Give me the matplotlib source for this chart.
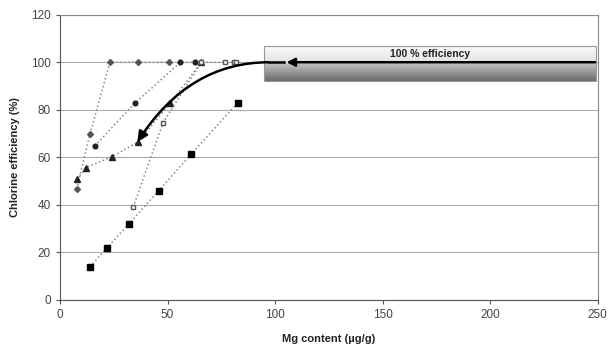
import numpy as np
import matplotlib.pyplot as plt
from matplotlib.path import Path
from matplotlib.patches import FancyArrowPatch, Rectangle

plt.rcParams['font.family'] = ['Liberation Sans', 'DejaVu Sans']

# series (Mg content ug/g, chlorine efficiency %)
diam_x = [7.7, 13.9, 23.2, 36.2, 50.7]
diam_y = [46.6, 69.7, 100, 100, 100]
circ_x = [16.2, 34.8, 56.0, 62.9]
circ_y = [64.8, 82.8, 100, 100]
tri_x = [8.0, 12.1, 24.3, 36.2, 51.3, 65.7]
tri_y = [50.9, 55.7, 60.3, 66.5, 82.8, 100]
osq_x = [34.0, 47.9, 65.7, 76.9, 80.7, 81.6]
osq_y = [39.0, 74.6, 100, 100, 100, 100]
fsq_x = [13.9, 21.9, 32.0, 45.9, 60.9, 82.7]
fsq_y = [14.0, 22.0, 32.0, 46.0, 61.3, 83.0]

x_ticks = [0, 50, 100, 150, 200, 250]
y_ticks = [0, 20, 40, 60, 80, 100, 120]

fig = plt.figure(figsize=(6.1, 3.46), dpi=100)
ax = fig.add_axes([0.0984, 0.133, 0.8816, 0.8245])

line_kw = dict(color='#888888', linestyle=':', linewidth=1.1)
ax.plot(diam_x, diam_y, marker='D', markersize=3.0, mfc='#555555', mec='#555555', **line_kw)
ax.plot(circ_x, circ_y, marker='o', markersize=3.4, mfc='#222222', mec='#222222', **line_kw)
ax.plot(tri_x, tri_y, marker='^', markersize=3.8, mfc='#222222', mec='#222222', **line_kw)
ax.plot(osq_x, osq_y, marker='s', markersize=3.4, mfc='white', mec='#555555', **line_kw)
ax.plot(fsq_x, fsq_y, marker='s', markersize=3.8, mfc='black', mec='black', **line_kw)

# grey "100 % efficiency" box with a vertical gradient
grad = np.concatenate([np.linspace(0.98, 0.88, 50), np.linspace(0.75, 0.42, 50)])
grad = np.tile(grad[:, None], (1, 2))
ax.imshow(grad, cmap='gray', vmin=0, vmax=1, aspect='auto',
          extent=[95, 249, 92.3, 107.0], origin='upper', zorder=2)
ax.add_patch(Rectangle((95, 92.3), 154, 14.7, fill=False, ec='#999999', lw=0.8, zorder=3))
ax.text(172, 103.5, '100 % efficiency', ha='center', va='center',
        fontsize=7.5, fontweight='bold', color='#222222', zorder=4)

# arrow: horizontal part then curve down to the left
ax.annotate('', xy=(104, 100), xytext=(250, 100),
            arrowprops=dict(arrowstyle='-|>', color='black', lw=1.8, mutation_scale=12),
            zorder=5)
ax.plot([104, 97], [100, 100], color='black', lw=1.8, zorder=5)
curve = Path([(97, 100), (60, 100), (36, 66.5)], [Path.MOVETO, Path.CURVE3, Path.CURVE3])
ax.add_patch(FancyArrowPatch(path=curve, arrowstyle='-|>', color='black', lw=1.8,
                             mutation_scale=15, zorder=5))

ax.set_xlim(0, 250)
ax.set_ylim(0, 120)
ax.set_xticks(x_ticks)
ax.set_yticks(y_ticks)
ax.tick_params(labelsize=8.5, labelcolor='#444444', color='#555555', length=3, direction='out')
ax.yaxis.grid(True, color='#aaaaaa', linewidth=0.8)
ax.set_axisbelow(True)
for s in ['left', 'bottom']:
    ax.spines[s].set_color('#555555')
for s in ['top', 'right']:
    ax.spines[s].set_color('#888888')

ax.set_xlabel('Mg content (\u00b5g/g)', fontsize=8, fontweight='bold', color='#222222', labelpad=9)
ax.set_ylabel('Chlorine efficiency (%)', fontsize=8, fontweight='bold', color='#222222', labelpad=8)

fig.savefig('out.png', dpi=100)
